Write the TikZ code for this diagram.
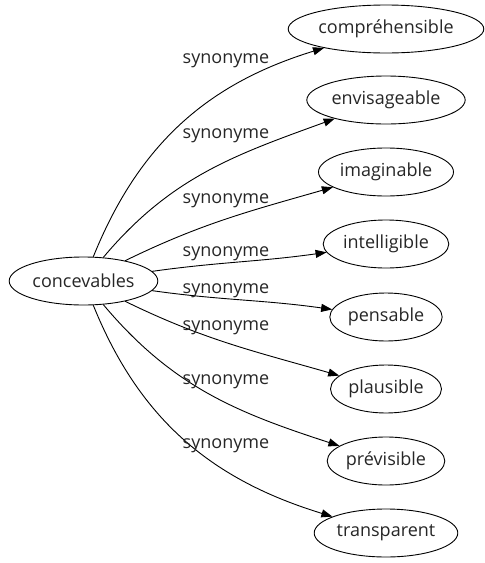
\documentclass[tikz,border=0pt]{standalone}
\usepackage{fontspec}
\setmainfont{Open Sans}
\usetikzlibrary{shapes.geometric,arrows.meta}
\begin{document}
\begin{tikzpicture}[x=1pt,y=-1pt,
  every node/.style={font=\fontsize{18}{21}\selectfont, text=black!85},
  word/.style={draw, ellipse, line width=0.9pt, inner xsep=1.5pt, inner ysep=0pt, minimum height=48pt},
  lbl/.style={anchor=base, inner sep=0pt},
  syn/.style={line width=0.9pt, -{Triangle[length=11pt,width=8pt]}}]
\useasboundingbox (0,0) rectangle (485,563);
\node[word] (c) at (83.5,281) {concevables};
\node[word] (t1) at (386,29) {compréhensible};
\node[word] (t2) at (386,100) {envisageable};
\node[word] (t3) at (386,172) {imaginable};
\node[word] (t4) at (386,244) {intelligible};
\node[word] (t5) at (386,317) {pensable};
\node[word] (t6) at (386,389) {plausible};
\node[word] (t7) at (386,461) {prévisible};
\node[word] (t8) at (386,533) {transparent};
\draw[syn] (c) to[out=68,in=197] (t1);
\draw[syn] (c) to[out=50,in=200] (t2);
\draw[syn] (c) to[out=26,in=196] (t3);
\draw[syn] (c) to[out=8,in=188] (t4);
\draw[syn] (c) to[out=-8,in=172] (t5);
\draw[syn] (c) to[out=-26,in=164] (t6);
\draw[syn] (c) to[out=-50,in=162] (t7);
\draw[syn] (c) to[out=-68,in=163] (t8);
\node[lbl] (l1) at (226,63) {synonyme};
\node[lbl] (l2) at (226,138) {synonyme};
\node[lbl] (l3) at (226,203) {synonyme};
\node[lbl] (l4) at (226,256) {synonyme};
\node[lbl] (l5) at (226,293) {synonyme};
\node[lbl] (l6) at (226,330) {synonyme};
\node[lbl] (l7) at (226,384) {synonyme};
\node[lbl] (l8) at (226,448) {synonyme};
\end{tikzpicture}
\end{document}
